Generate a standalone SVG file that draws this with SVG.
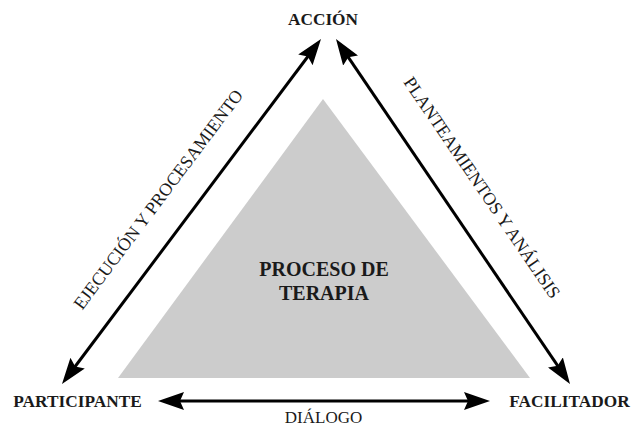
<svg xmlns="http://www.w3.org/2000/svg" width="631" height="436" viewBox="0 0 631 436">
  <style>
    .node { font-family: "Liberation Serif", "Times New Roman", serif; font-weight: bold; font-size: 17.3px; fill: #1a1a1a; text-anchor: middle; }
    .center { font-family: "Liberation Serif", "Times New Roman", serif; font-weight: bold; font-size: 20px; fill: #1a1a1a; text-anchor: middle; }
    .edge-label { font-family: "Liberation Serif", "Times New Roman", serif; font-size: 17px; fill: #1a1a1a; text-anchor: middle; }
    .diag { font-size: 18px; }
    .conn { stroke: #000; stroke-width: 3; fill: none; }
  </style>
  <defs>
    <marker id="arrow" viewBox="0 0 26 18" refX="16" refY="9" markerWidth="26" markerHeight="18" markerUnits="userSpaceOnUse" orient="auto-start-reverse">
      <path d="M0,0 L26,9 L0,18 L4,9 Z" fill="#000"/>
    </marker>
  </defs>
  <rect width="631" height="436" fill="#fff"/>

  <g id="proceso">
    <polygon points="323,99 118,378 530,378" fill="#cccccc"/>
    <text class="center" x="324" y="276">PROCESO DE</text>
    <text class="center" x="324" y="300">TERAPIA</text>
  </g>

  <g id="accion">
    <text class="node" x="323" y="25">ACCIÓN</text>
  </g>
  <g id="participante">
    <text class="node" x="77.5" y="407">PARTICIPANTE</text>
  </g>
  <g id="facilitador">
    <text class="node" x="569.5" y="407">FACILITADOR</text>
  </g>

  <g id="connectors">
    <line class="conn" x1="68" y1="376" x2="315" y2="47" marker-start="url(#arrow)" marker-end="url(#arrow)"/>
    <line class="conn" x1="341.6" y1="47.3" x2="564.4" y2="375.7" marker-start="url(#arrow)" marker-end="url(#arrow)"/>
    <line class="conn" x1="168" y1="401" x2="480" y2="401" marker-start="url(#arrow)" marker-end="url(#arrow)"/>
    <text class="edge-label diag" transform="translate(163,203) rotate(-53.1)">EJECUCIÓN Y PROCESAMIENTO</text>
    <text class="edge-label diag" transform="translate(477,191) rotate(55.8)">PLANTEAMIENTOS Y ANÁLISIS</text>
    <text class="edge-label" x="323.5" y="423">DIÁLOGO</text>
  </g>
</svg>
